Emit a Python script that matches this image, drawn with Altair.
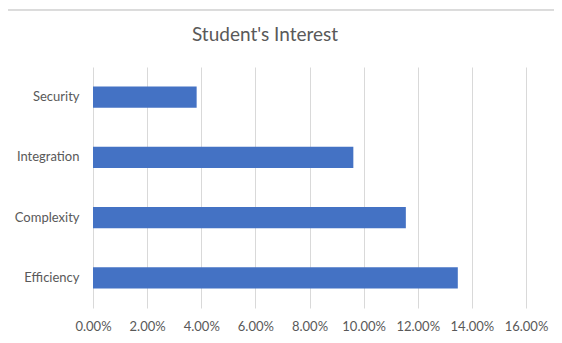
import altair as alt
import pandas as pd

categories = ["Security", "Integration", "Complexity", "Efficiency"]
values = [0.0383, 0.0962, 0.1156, 0.1348]
tick_values = [0.0, 0.02, 0.04, 0.06, 0.08, 0.10, 0.12, 0.14, 0.16]
title_text = ["Student's Interest"]

df = pd.DataFrame({"category": categories, "value": values})
tdf = pd.DataFrame({"t": title_text})

FONT = "Lato"
GREY = "#595959"

bars = alt.Chart(df).mark_bar(color="#4472C4").encode(
    x=alt.X("value:Q",
            scale=alt.Scale(domain=[0, 0.16], nice=False),
            axis=alt.Axis(values=tick_values, format=".2%", title=None,
                          grid=True, gridColor="#d9d9d9", domain=False, ticks=False,
                          labelPadding=12, labelFontSize=13, labelColor=GREY,
                          labelFont=FONT, labelOverlap=False, labelFlush=False)),
    y=alt.Y("category:N", sort=categories,
            scale=alt.Scale(paddingInner=0.65, paddingOuter=0.325),
            axis=alt.Axis(title=None, domain=False, ticks=False, grid=False,
                          labelPadding=14, labelFontSize=13, labelColor=GREY,
                          labelFont=FONT)),
)

border_top = alt.Chart(df).mark_rule(color="#d9d9d9").encode(
    x=alt.value(-85), x2=alt.value(461), y=alt.value(-57))

title = alt.Chart(tdf).mark_text(font=FONT, fontSize=19, color=GREY,
                                 align="center", baseline="middle").encode(
    text="t:N", x=alt.value(172), y=alt.value(-32))

chart = alt.layer(border_top, bars, title).properties(
    width=433, height=241,
    autosize=alt.AutoSizeParams(type="none"),
    padding={"left": 85, "top": 59, "right": 28, "bottom": 27},
).configure_view(stroke=None)

chart.save("out.html", embed_options={"renderer": "svg", "actions": False})
